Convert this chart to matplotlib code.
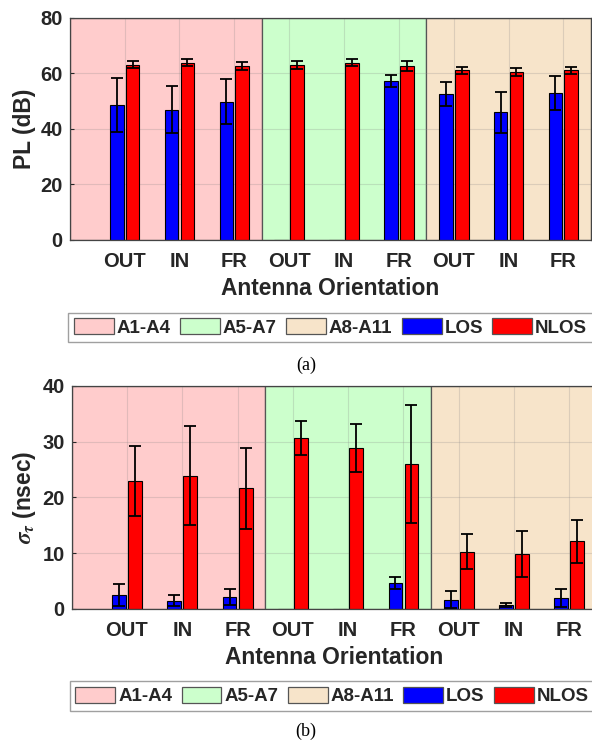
import numpy as np
import matplotlib
matplotlib.use('Agg')
import matplotlib.pyplot as plt
from matplotlib.patches import Patch

# ---------------- data ----------------
orientations = ['OUT', 'IN', 'FR', 'OUT', 'IN', 'FR', 'OUT', 'IN', 'FR']
regions = ['A1-A4', 'A5-A7', 'A8-A11']
region_colors = ['#FFCCCC', '#CCFFCC', '#F7E4CA']
series = ['LOS', 'NLOS']
series_colors = ['#0000FF', '#FF0000']

pl_los = [48.6, 46.9, 49.8, 0, 0, 57.2, 52.6, 45.9, 52.9]
pl_los_err = [9.7, 8.5, 8.0, 0, 0, 2.2, 4.4, 7.3, 6.0]
pl_nlos = [63.1, 63.8, 62.7, 63.1, 63.8, 62.7, 61.0, 60.4, 61.0]
pl_nlos_err = [1.2, 1.2, 1.4, 1.4, 1.2, 1.8, 1.3, 1.5, 1.3]

ds_los = [2.5, 1.5, 2.2, 0, 0, 4.7, 1.7, 0.7, 2.0]
ds_los_err = [2.0, 1.0, 1.4, 0, 0, 1.1, 1.5, 0.4, 1.6]
ds_nlos = [22.9, 23.9, 21.6, 30.6, 28.8, 26.0, 10.3, 9.9, 12.1]
ds_nlos_err = [6.3, 8.8, 7.3, 3.1, 4.3, 10.6, 3.1, 4.1, 3.8]

plt.rcParams['font.family'] = ['Liberation Sans', 'DejaVu Sans']
plt.rcParams['font.weight'] = 'bold'
plt.rcParams['mathtext.fontset'] = 'stix'

TXT = '#262626'
fig = plt.figure(figsize=(5.92, 7.41), dpi=100)

ax1 = fig.add_axes([69.8 / 592, 1 - 240 / 741, 521 / 592, 222.3 / 741])
ax2 = fig.add_axes([71.7 / 592, 1 - 609 / 741, 525.3 / 592, 223.3 / 741])

x = np.arange(1, len(orientations) + 1)
bounds = [0, 3.5, 6.5, 9.5]
bw = 0.25
off = 0.145


def draw(ax, los, los_err, nlos, nlos_err, ylim, yticks, ylabel):
    for i, c in enumerate(region_colors):
        ax.axvspan(bounds[i], bounds[i + 1], facecolor=c, edgecolor='#555555',
                   linewidth=0.9, zorder=0.1)
    ax.set_axisbelow(True)
    ax.grid(True, color='#888888', alpha=0.25, linewidth=0.8)
    for vals, errs, d, col in [(los, los_err, -off, series_colors[0]),
                               (nlos, nlos_err, off, series_colors[1])]:
        vals = np.array(vals, float)
        errs = np.array(errs, float)
        ax.bar(x + d, vals, width=bw, color=col, edgecolor='black',
               linewidth=0.8, zorder=2)
        m = vals > 0
        ax.errorbar(x[m] + d, vals[m], yerr=errs[m], fmt='none', ecolor='black',
                    elinewidth=1.3, capsize=4.5, capthick=1.3, zorder=3)
    ax.set_xlim(0, 9.5)
    ax.set_ylim(*ylim)
    ax.set_yticks(yticks)
    ax.set_xticks(x)
    ax.set_xticklabels(orientations)
    ax.tick_params(axis='both', direction='in', labelsize=14.5, colors=TXT,
                   length=3)
    ax.tick_params(axis='x', pad=9, length=0)
    ax.tick_params(axis='y', pad=5)
    for lab in ax.get_xticklabels() + ax.get_yticklabels():
        lab.set_fontweight('bold')
    for s in ax.spines.values():
        s.set_color('#444444')
        s.set_linewidth(0.9)
    ax.set_xlabel('Antenna Orientation', fontsize=16.4, fontweight='bold',
                  color=TXT, labelpad=4)
    ax.set_ylabel(ylabel, fontsize=16.4, fontweight='bold', color=TXT,
                  labelpad=3)


draw(ax1, pl_los, pl_los_err, pl_nlos, pl_nlos_err, (0, 80), [0, 20, 40, 60, 80],
     'PL (dB)')
draw(ax2, ds_los, ds_los_err, ds_nlos, ds_nlos_err, (0, 40), [0, 10, 20, 30, 40],
     r'$\sigma_\tau$ (nsec)')

handles = [Patch(facecolor=c, edgecolor='#555555', linewidth=0.9) for c in region_colors] + \
          [Patch(facecolor=c, edgecolor='#555555', linewidth=0.9) for c in series_colors]
labels = regions + series

for yc, xc in [(327.5, 330.4), (696, 332)]:
    leg = fig.legend(handles, labels, loc='center',
                     bbox_to_anchor=(xc / 592, 1 - yc / 741), ncol=5,
                     fontsize=13.5, handlelength=2.13, handleheight=0.94,
                     handletextpad=0.15, columnspacing=0.5, borderpad=0.3,
                     fancybox=False, frameon=True)
    leg.get_frame().set_edgecolor('#888888')
    leg.get_frame().set_linewidth(1.0)
    for t in leg.get_texts():
        t.set_fontweight('bold')
        t.set_color(TXT)

fig.text(306 / 592, 1 - 365 / 741, '(a)', ha='center', va='center',
         fontsize=13, family='Liberation Serif', fontweight='normal')
fig.text(306 / 592, 1 - 731 / 741, '(b)', ha='center', va='center',
         fontsize=13, family='Liberation Serif', fontweight='normal')

fig.savefig('out.png', dpi=100)
